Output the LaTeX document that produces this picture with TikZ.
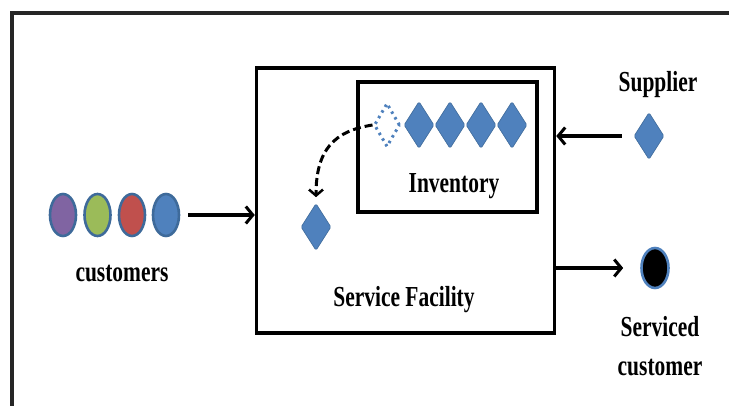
\documentclass[tikz,border=0pt]{standalone}
\usepackage{fontspec}
\setmainfont{Liberation Serif}[FakeStretch=0.74]
\usepackage{tikz}
\usetikzlibrary{shapes.geometric,arrows.meta,calc}

\definecolor{cpurple}{HTML}{8064A2}
\definecolor{cgreen}{HTML}{9BBB59}
\definecolor{cred}{HTML}{C0504D}
\definecolor{cblue}{HTML}{4F81BD}
\definecolor{cedge}{HTML}{3E6A9A}

\tikzset{
    txt/.style={font=\fontsize{29}{39}\selectfont\bfseries, inner sep=0, anchor=base},
    gem/.style={diamond, fill=cblue, draw=cedge, line width=0.6pt, inner sep=0,
        rounded corners=1.5pt, minimum width=30, minimum height=47},
    ghost/.style={diamond, draw=cblue, line width=3pt,
        dash pattern=on 2.5pt off 4pt, inner sep=0, minimum width=26, minimum height=44},
    person/.style={ellipse, draw=cedge, line width=2.6pt, inner sep=0,
        minimum width=26, minimum height=42},
    flow/.style={line width=3.5pt, -{Straight Barb[length=7pt,width=17pt,line width=3pt]}},
}

\begin{document}
\begin{tikzpicture}[x=1pt,y=-1pt]
    \useasboundingbox (0,0) rectangle (729,406);
    % frame
    \draw[line width=3.5pt, black!85] (729,13) -- (12,13) -- (12,406);

    % customers
    \node[person, fill=cpurple] (c1) at (63,215) {};
    \node[person, fill=cgreen] (c2) at (97.5,215) {};
    \node[person, fill=cred] (c3) at (132,215) {};
    \node[person, fill=cblue] (c4) at (166,215) {};
    \node[txt] (customers) at (122,282) {customers};

    % service facility and inventory
    \node[draw, line width=3.5pt, minimum width=298, minimum height=265] (facility) at (405.5,200.5) {};
    \node[txt] (facilitylabel) at (404,307) {Service Facility};
    \node[draw, line width=3.5pt, minimum width=179, minimum height=130] (inventory) at (447.5,147) {};
    \node[txt] (inventorylabel) at (454,193) {Inventory};
    \node[ghost] (i0) at (387,125) {};
    \node[gem] (i1) at (419,125) {};
    \node[gem] (i2) at (450,125) {};
    \node[gem] (i3) at (481,125) {};
    \node[gem] (i4) at (512,125) {};
    \node[gem] (used) at (316,227) {};
    \draw[line width=3pt, dash pattern=on 8pt off 4pt, shorten >=6pt,
        -{Straight Barb[length=6pt,width=14pt,line width=2.5pt]}]
        (i0.west) .. controls (334,131) and (316,150) .. (used.north);

    % supplier
    \node[txt] (supplierlabel) at (658,92) {Supplier};
    \node[gem] (supplier) at (649,136) {};
    \draw[flow, shorten <=12pt] (supplier.west) -- (supplier.west -| facility.east);

    % serviced customer
    \node[person, fill=black, draw=cblue, minimum width=27, minimum height=40] (done) at (655,268) {};
    \node[txt, align=center] (donelabel) at (660,375) {Serviced\\customer};
    \draw[flow, shorten >=17pt] (facility.east |- done.west) -- (done.west);

    \draw[flow, shorten <=8pt] (c4.east) -- (c4.east -| facility.west);
\end{tikzpicture}
\end{document}
